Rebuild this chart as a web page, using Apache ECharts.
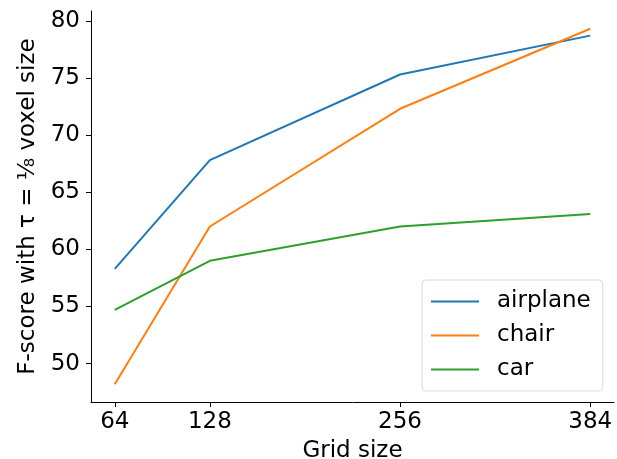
<!DOCTYPE html>
<html>
<head>
<meta charset="utf-8">
<script src="https://cdn.jsdelivr.net/npm/echarts@6/dist/echarts.min.js"></script>
<style>
  html, body { margin: 0; padding: 0; background: #fff; }
  #chart { width: 617px; height: 459px; }
</style>
</head>
<body>
<div id="chart"></div>
<script>
const gridSizes = [64, 128, 256, 384]
const airplane = [58.3, 67.8, 75.3, 78.7]
const chair = [48.2, 62.0, 72.3, 79.3]
const car = [54.7, 59.0, 62.0, 63.1]
const yTicks = [50, 55, 60, 65, 70, 75, 80]

const font = 'DejaVu Sans'

function pairs(values) {
  return gridSizes.map((g, i) => [g, values[i]])
}

const chart = echarts.init(document.getElementById('chart'))

const lineSeries = (name, values, color) => ({
  name,
  type: 'line',
  data: pairs(values),
  showSymbol: false,
  lineStyle: { width: 2, color },
  itemStyle: { color },
  emphasis: { disabled: true }
})

chart.setOption({
  animation: false,
  color: ['#1f77b4', '#ff7f0e', '#2ca02c'],
  grid: { left: 91, right: 3, top: 11, bottom: 57, outerBoundsMode: 'none', containLabel: false },
  xAxis: {
    type: 'value',
    min: 48,
    max: 400,
    name: 'Grid size',
    nameLocation: 'middle',
    nameGap: 38,
    nameTextStyle: { fontFamily: font, fontSize: 23, color: '#000' },
    axisLine: { lineStyle: { color: '#000', width: 1 } },
    axisTick: { show: true, length: 5, customValues: gridSizes, lineStyle: { color: '#000' } },
    axisLabel: { customValues: gridSizes, margin: 9, fontFamily: font, fontSize: 23, color: '#000' },
    splitLine: { show: false }
  },
  yAxis: {
    type: 'value',
    min: 46.645,
    max: 80.855,
    name: 'F-score with τ = ⅛ voxel size',
    nameLocation: 'middle',
    nameRotate: 90,
    nameGap: 50,
    nameTextStyle: { fontFamily: font, fontSize: 23, color: '#000' },
    axisLine: { show: true, lineStyle: { color: '#000', width: 1 } },
    axisTick: { show: true, length: 5, customValues: yTicks, lineStyle: { color: '#000' } },
    axisLabel: { customValues: yTicks, margin: 11, fontFamily: font, fontSize: 23, color: '#000' },
    splitLine: { show: false }
  },
  legend: {
    orient: 'vertical',
    left: 422,
    top: 280,
    padding: [8, 12, 8, 9],
    itemGap: 7,
    itemWidth: 48,
    itemHeight: 2,
    icon: 'rect',
    backgroundColor: '#fff',
    borderColor: '#d9d9d9',
    borderWidth: 1,
    borderRadius: 4,
    textStyle: { fontFamily: font, fontSize: 23, color: '#000', lineHeight: 27, padding: [0, 0, 0, 13] },
    data: ['airplane', 'chair', 'car']
  },
  series: [
    lineSeries('airplane', airplane, '#1f77b4'),
    lineSeries('chair', chair, '#ff7f0e'),
    lineSeries('car', car, '#2ca02c')
  ]
})
</script>
</body>
</html>
